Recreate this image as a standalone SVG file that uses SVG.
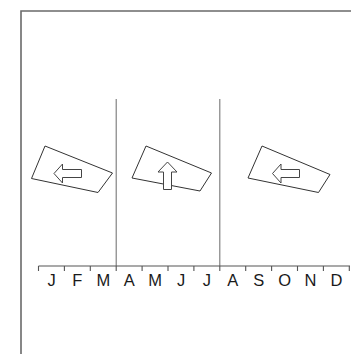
<svg xmlns="http://www.w3.org/2000/svg" width="351" height="354" viewBox="0 0 351 354">
<style>
.frame{fill:none;stroke:#6a6a6a;stroke-width:1.6}
.div{fill:none;stroke:#777;stroke-width:1.1}
.axis{fill:none;stroke:#555;stroke-width:1.1}
.sheet{fill:#fff;stroke:#333;stroke-width:1}
.arrow{fill:#fff;stroke:#444;stroke-width:1}
.m{font-family:"Liberation Sans",Arial,sans-serif;font-size:16.5px;fill:#1a1a1a;text-anchor:middle}
</style>
<rect width="351" height="354" fill="#fff"/>
<path class="frame" d="M21,354 V11 H351"/>
<g id="connectors">
<line class="div" x1="116.2" y1="99" x2="116.2" y2="266"/>
<line class="div" x1="219.8" y1="99" x2="219.8" y2="266"/>
<line class="axis" x1="38.5" y1="266" x2="350" y2="266"/>
<path class="axis" d="M38.5,266v5M64.4,266v5M90.3,266v5M116.2,266v5M142.1,266v5M168,266v5M193.9,266v5M219.8,266v5M245.7,266v5M271.6,266v5M297.5,266v5M323.4,266v5M349.3,266v5"/>
</g>
<g id="months">
<text class="m" x="51.5" y="285.5">J</text>
<text class="m" x="77.4" y="285.5">F</text>
<text class="m" x="103.3" y="285.5">M</text>
<text class="m" x="129.2" y="285.5">A</text>
<text class="m" x="155.1" y="285.5">M</text>
<text class="m" x="181" y="285.5">J</text>
<text class="m" x="206.9" y="285.5">J</text>
<text class="m" x="232.8" y="285.5">A</text>
<text class="m" x="258.7" y="285.5">S</text>
<text class="m" x="284.6" y="285.5">O</text>
<text class="m" x="310.5" y="285.5">N</text>
<text class="m" x="336.4" y="285.5">D</text>
</g>
<g id="sheet1">
<polygon class="sheet" points="45,146 112.5,173 98,192.5 31.5,178.5"/>
<polygon class="arrow" points="54,173.5 62.5,164 62.5,169.5 81.5,169.5 81.5,177.5 62.5,177.5 62.5,183"/>
</g>
<g id="sheet2">
<polygon class="sheet" points="146,146 211.5,173 200,191 132,178"/>
<polygon class="arrow" points="167.5,162 177,172 171.5,172 171.5,189.5 163.5,189.5 163.5,172 158,172"/>
</g>
<g id="sheet3">
<polygon class="sheet" points="262,146 330,174.5 318.5,192.5 248,178"/>
<polygon class="arrow" points="272.5,173.5 281,164 281,169.5 299.5,169.5 299.5,177.5 281,177.5 281,183"/>
</g>
</svg>
